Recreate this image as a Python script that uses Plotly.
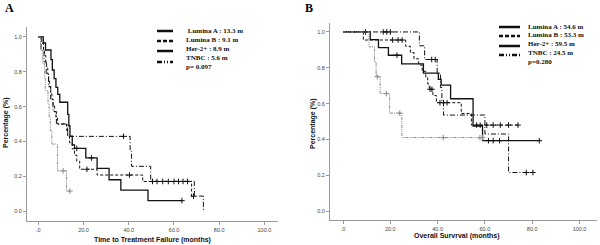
import plotly.graph_objects as go

# ---------------- Panel A: Time to Treatment Failure ----------------
ttf_lumA_t = [0, 2.2, 3.2, 5.6, 6.2, 7.0, 7.8, 8.6, 9.5, 13.0, 13.5, 14.0, 15.0, 16.0, 21.0, 26.0, 31.3, 36.5, 48.5]
ttf_lumA_s = [1.0, 0.965, 0.925, 0.87, 0.81, 0.76, 0.71, 0.67, 0.625, 0.555, 0.49, 0.43, 0.38, 0.36, 0.305, 0.245, 0.18, 0.12, 0.06]
ttf_lumA_c = [17.0, 23.5, 63.5]

ttf_lumB_t = [0, 1.5, 2.3, 2.8, 3.3, 3.7, 4.2, 4.6, 5.0, 5.5, 6.0, 6.5, 7.2, 7.8, 8.5, 12.5, 13.0, 13.8, 15.0, 16.0, 17.0, 18.3, 26.0, 46.2, 67.8]
ttf_lumB_s = [1.0, 0.964, 0.929, 0.893, 0.857, 0.821, 0.786, 0.75, 0.714, 0.679, 0.643, 0.607, 0.571, 0.536, 0.50, 0.464, 0.429, 0.393, 0.357, 0.321, 0.286, 0.24, 0.207, 0.17, 0.085]
ttf_lumB_c = [21.5, 40.3, 50.5, 52.5, 55.0, 57.5, 60.0, 62.0, 64.0, 66.0, 68.6]

ttf_her2_t = [0, 1.2, 2.5, 3.5, 4.5, 5.5, 6.5, 8.0, 13.0, 40.6, 41.2, 49.7, 69.0, 73.0]
ttf_her2_s = [1.0, 0.929, 0.857, 0.786, 0.714, 0.643, 0.571, 0.5, 0.429, 0.343, 0.257, 0.171, 0.086, 0.0]
ttf_her2_c = [37.7]

ttf_tnbc_t = [0, 1.0, 2.0, 2.8, 3.1, 4.3, 4.8, 5.3, 6.0, 8.5, 12.5]
ttf_tnbc_s = [1.0, 0.923, 0.846, 0.769, 0.692, 0.615, 0.538, 0.462, 0.385, 0.231, 0.115]
ttf_tnbc_c = [11.0, 14.0]

# ---------------- Panel B: Overall Survival ----------------
os_lumA_t = [0, 11.5, 15.0, 19.2, 24.8, 34.0, 40.3, 41.5, 45.5, 55.0, 59.0]
os_lumA_s = [1.0, 0.957, 0.913, 0.870, 0.822, 0.770, 0.735, 0.703, 0.627, 0.475, 0.393]
os_lumA_c = [22.8, 61.5, 63.5, 66.2, 83.0]

os_lumB_t = [0, 8.6, 26.5, 28.5, 30.0, 32.0, 33.5, 35.0, 35.8, 36.5, 38.0, 39.5, 50.0, 54.3]
os_lumB_s = [1.0, 0.955, 0.92, 0.885, 0.85, 0.815, 0.78, 0.745, 0.71, 0.68, 0.645, 0.605, 0.545, 0.48]
os_lumB_c = [21.0, 23.3, 25.0, 36.8, 37.6, 41.0, 42.5, 44.0, 56.5, 58.0, 60.8, 63.5, 66.5, 70.0, 74.0]

os_her2_t = [0, 32.3, 34.5, 39.8, 41.2, 41.8, 42.5, 60.0, 70.0]
os_her2_s = [1.0, 0.923, 0.846, 0.77, 0.69, 0.615, 0.536, 0.43, 0.215]
os_her2_c = [9.5, 17.0, 18.5, 20.0, 37.5, 39.0, 77.5, 80.3]

os_tnbc_t = [0, 11.0, 13.3, 14.0, 15.7, 19.7, 24.9]
os_tnbc_s = [1.0, 0.917, 0.833, 0.75, 0.656, 0.547, 0.41]
os_tnbc_c = [14.5, 18.3, 24.0, 42.4, 57.9, 59.0]

x_tickvals = [0, 20, 40, 60, 80, 100]
x_ticktext = [".0", "20.0", "40.0", "60.0", "80.0", "100.0"]
y_tickvals = [0, 0.2, 0.4, 0.6, 0.8, 1.0]
y_ticktext = ["0.0", "0.2", "0.4", "0.6", "0.8", "1.0"]

legend_A = [" Lumina A : 13.3 m", "Lumina B : 9.1 m", "Her-2+ : 8.9 m", "TNBC : 5.6 m", "p= 0.097"]
legend_B = ["Lumina A : 54.6 m", "Lumina B : 53.3 m", "Her-2+ : 59.5 m", "TNBC : 24.5 m", "p=0.280"]

STYLES = {
    "lumA": dict(color="#111111", width=1.3, dash="solid"),
    "lumB": dict(color="#111111", width=1.0, dash="3px,2px"),
    "her2": dict(color="#111111", width=1.0, dash="5px,2px,1px,2px"),
    "tnbc": dict(color="#8a8a8a", width=1.0, dash="3px,1px,1px,1px,1px,1px"),
}


def km_line(t, s, c):
    x = list(t)
    y = list(s)
    if c and max(c) > x[-1]:
        x.append(max(c))
        y.append(y[-1])
    return x, y


def cens_y(t, s, c):
    out = []
    for ci in c:
        v = s[0]
        for ti, si in zip(t, s):
            if ti <= ci:
                v = si
        out.append(v)
    return out


fig = go.Figure()

series = [
    ("x", "y", ttf_lumA_t, ttf_lumA_s, ttf_lumA_c, "lumA"),
    ("x", "y", ttf_lumB_t, ttf_lumB_s, ttf_lumB_c, "lumB"),
    ("x", "y", ttf_her2_t, ttf_her2_s, ttf_her2_c, "her2"),
    ("x", "y", ttf_tnbc_t, ttf_tnbc_s, ttf_tnbc_c, "tnbc"),
    ("x2", "y2", os_lumA_t, os_lumA_s, os_lumA_c, "lumA"),
    ("x2", "y2", os_lumB_t, os_lumB_s, os_lumB_c, "lumB"),
    ("x2", "y2", os_her2_t, os_her2_s, os_her2_c, "her2"),
    ("x2", "y2", os_tnbc_t, os_tnbc_s, os_tnbc_c, "tnbc"),
]

for xa, ya, t, s, c, key in series:
    lx, ly = km_line(t, s, c)
    st = STYLES[key]
    fig.add_trace(go.Scatter(x=lx, y=ly, xaxis=xa, yaxis=ya, mode="lines",
                             line=dict(color=st["color"], width=st["width"], dash=st["dash"], shape="hv"),
                             showlegend=False, hoverinfo="skip"))
    fig.add_trace(go.Scatter(x=c, y=cens_y(t, s, c), xaxis=xa, yaxis=ya, mode="markers",
                             marker=dict(symbol="cross-thin", size=4,
                                         line=dict(color=st["color"], width=1)),
                             showlegend=False, hoverinfo="skip"))

W, H = 600, 245


def px(x):
    return x / W


def py(y):
    return 1 - y / H


axis_common = dict(showline=True, linecolor="#9a9a9a", linewidth=1, ticks="outside", ticklen=3,
                   tickcolor="#9a9a9a", showgrid=False, zeroline=False,
                   tickfont=dict(family="Liberation Sans", size=5.5, color="#444444"))

fig.update_layout(
    width=W, height=H, margin=dict(l=0, r=0, t=0, b=0),
    paper_bgcolor="white", plot_bgcolor="white", showlegend=False,
    xaxis=dict(domain=[px(27), px(278)], range=[-5, 106], tickvals=x_tickvals, ticktext=x_ticktext,
               anchor="y", **axis_common),
    yaxis=dict(domain=[py(221), py(27)], range=[-0.057, 1.057], tickvals=y_tickvals, ticktext=y_ticktext,
               anchor="x", **axis_common),
    xaxis2=dict(domain=[px(330), px(597)], range=[-5.5, 107.4], tickvals=x_tickvals, ticktext=x_ticktext,
                anchor="y2", **axis_common),
    yaxis2=dict(domain=[py(220), py(23)], range=[-0.05, 1.05], tickvals=y_tickvals, ticktext=y_ticktext,
                anchor="x2", **axis_common),
)

ann = []
shapes = []
title_font = dict(family="Liberation Sans", size=7, color="#111111")
# Panel labels
ann.append(dict(x=px(3), y=py(8), xref="paper", yref="paper", text="<b>A</b>", showarrow=False,
                xanchor="left", yanchor="middle", font=dict(family="Liberation Serif", size=12, color="black")))
ann.append(dict(x=px(303), y=py(8), xref="paper", yref="paper", text="<b>B</b>", showarrow=False,
                xanchor="left", yanchor="middle", font=dict(family="Liberation Serif", size=12, color="black")))
# Axis titles
ann.append(dict(x=px(152), y=py(239.5), xref="paper", yref="paper", text="<b>Time to Treatment Failure (months)</b>",
                showarrow=False, xanchor="center", yanchor="middle", font=title_font))
ann.append(dict(x=px(457), y=py(236), xref="paper", yref="paper", text="<b>Overall Survrval (months)</b>",
                showarrow=False, xanchor="center", yanchor="middle", font=title_font))
ann.append(dict(x=px(6), y=py(123), xref="paper", yref="paper", text="<b>Percentage (%)</b>", textangle=-90,
                showarrow=False, xanchor="center", yanchor="middle", font=title_font))
ann.append(dict(x=px(313), y=py(123), xref="paper", yref="paper", text="<b>Percentage (%)</b>", textangle=-90,
                showarrow=False, xanchor="center", yanchor="middle", font=title_font))

leg_font = dict(family="Liberation Serif", size=7, color="#111111")
sample_dash = ["solid", "4px,2px", "solid", "5px,2px,1px,2px,1px,2px"]


def add_legend(labels, text_x, text_rows, line_x0, line_x1, line_rows):
    for lab, ty in zip(labels, text_rows):
        ann.append(dict(x=px(text_x), y=py(ty), xref="paper", yref="paper", text="<b>" + lab + "</b>",
                        showarrow=False, xanchor="left", yanchor="middle", font=leg_font))
    for dsh, ly in zip(sample_dash, line_rows):
        shapes.append(dict(type="line", xref="paper", yref="paper", x0=px(line_x0), x1=px(line_x1),
                           y0=py(ly), y1=py(ly), line=dict(color="#111111", width=2.5, dash=dsh)))


add_legend(legend_A, 184, [31, 40, 49, 58, 67], 157, 173, [31, 41, 51, 62])
add_legend(legend_B, 526, [27, 35.5, 44, 53, 61.5], 499, 520, [27, 36, 46, 55])

fig.update_layout(annotations=ann, shapes=shapes)
fig.write_html("out.html", config={"displayModeBar": False},
               post_script="document.body.style.margin='0';document.body.style.padding='0';"
                           "document.body.style.overflow='hidden';")
